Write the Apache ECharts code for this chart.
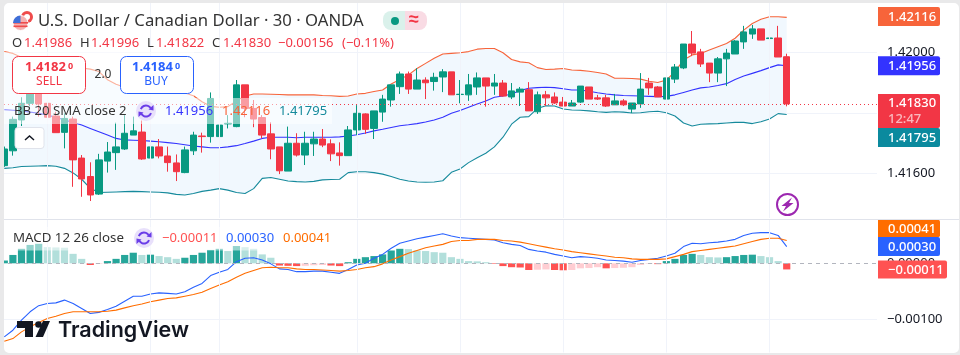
<!DOCTYPE html>
<html>
<head>
<meta charset="utf-8">
<style>
html,body{margin:0;padding:0;background:#e9e9ea}
#main{width:960px;height:355px}
</style>
<script src="https://cdn.jsdelivr.net/npm/echarts@6/dist/echarts.min.js"></script>
</head>
<body>
<div id="main"></div>
<script>
// one candle per row: open, close, low, high
var candles = [
[1.41626,1.41681,1.41622,1.41689],[1.41675,1.41779,1.41659,1.41788],[1.41777,1.41832,1.41757,1.41852],[1.41832,1.41867,1.41823,1.41878],
[1.41865,1.41830,1.41788,1.41885],[1.41832,1.41786,1.41780,1.41860],[1.41790,1.41735,1.41735,1.41804],[1.41736,1.41782,1.41683,1.41799],
[1.41780,1.41645,1.41556,1.41788],[1.41651,1.41582,1.41523,1.41661],[1.41590,1.41529,1.41509,1.41637],[1.41532,1.41645,1.41529,1.41665],
[1.41641,1.41671,1.41603,1.41704],[1.41669,1.41688,1.41612,1.41768],[1.41681,1.41733,1.41678,1.41793],[1.41727,1.41741,1.41727,1.41788],
[1.41737,1.41648,1.41645,1.41775],[1.41651,1.41688,1.41631,1.41694],[1.41688,1.41658,1.41650,1.41714],[1.41658,1.41636,1.41606,1.41689],
[1.41635,1.41606,1.41575,1.41663],[1.41603,1.41678,1.41601,1.41689],[1.41675,1.41727,1.41661,1.41738],[1.41724,1.41722,1.41669,1.41735],
[1.41722,1.41848,1.41702,1.41868],[1.41722,1.41760,1.41722,1.41766],[1.41764,1.41766,1.41749,1.41793],[1.41755,1.41893,1.41753,1.41909],
[1.41893,1.41815,1.41786,1.41893],[1.41815,1.41780,1.41753,1.41843],[1.41785,1.41727,1.41716,1.41793],[1.41731,1.41681,1.41647,1.41769],
[1.41688,1.41609,1.41598,1.41688],[1.41608,1.41700,1.41608,1.41755],[1.41700,1.41661,1.41656,1.41733],[1.41661,1.41700,1.41628,1.41738],
[1.41698,1.41714,1.41658,1.41738],[1.41714,1.41694,1.41687,1.41747],[1.41698,1.41665,1.41641,1.41713],[1.41668,1.41659,1.41626,1.41703],
[1.41659,1.41744,1.41659,1.41757],[1.41744,1.41799,1.41727,1.41826],[1.41797,1.41746,1.41731,1.41799],[1.41749,1.41807,1.41714,1.41807],
[1.41803,1.41846,1.41771,1.41860],[1.41843,1.41893,1.41821,1.41893],[1.41887,1.41929,1.41863,1.41937],[1.41929,1.41879,1.41863,1.41937],
[1.41879,1.41909,1.41879,1.41948],[1.41909,1.41900,1.41846,1.41918],[1.41904,1.41918,1.41874,1.41933],[1.41919,1.41936,1.41869,1.41945],
[1.41936,1.41860,1.41860,1.41936],[1.41861,1.41862,1.41832,1.41909],[1.41860,1.41893,1.41840,1.41929],[1.41886,1.41916,1.41860,1.41934],
[1.41916,1.41889,1.41821,1.41916],[1.41889,1.41899,1.41860,1.41929],[1.41899,1.41856,1.41854,1.41909],[1.41853,1.41873,1.41846,1.41899],
[1.41869,1.41879,1.41823,1.41886],[1.41877,1.41807,1.41807,1.41902],[1.41804,1.41860,1.41797,1.41871],[1.41860,1.41850,1.41823,1.41873],
[1.41853,1.41833,1.41830,1.41868],[1.41836,1.41823,1.41823,1.41853],[1.41823,1.41833,1.41823,1.41843],[1.41836,1.41889,1.41833,1.41889],
[1.41886,1.41846,1.41846,1.41886],[1.41850,1.41846,1.41843,1.41860],[1.41850,1.41823,1.41820,1.41860],[1.41827,1.41840,1.41827,1.41863],
[1.41840,1.41827,1.41823,1.41846],[1.41813,1.41833,1.41800,1.41833],[1.41830,1.41879,1.41817,1.41932],[1.41899,1.41883,1.41860,1.41916],
[1.41886,1.41853,1.41853,1.41889],[1.41846,1.41916,1.41827,1.41929],[1.41912,1.41952,1.41899,1.41962],[1.41949,1.42028,1.41945,1.42028],
[1.42028,1.41998,1.41988,1.42071],[1.42002,1.41962,1.41952,1.42012],[1.41965,1.41932,1.41902,1.41965],[1.41932,1.41979,1.41902,1.41985],
[1.41979,1.41998,1.41889,1.42012],[1.41995,1.42038,1.41995,1.42041],[1.42035,1.42068,1.42012,1.42088],[1.42061,1.42078,1.42045,1.42091],
[1.42078,1.42041,1.42041,1.42078],[1.42046,1.42048,1.42018,1.42061],[1.42048,1.41985,1.41985,1.42088],[1.41986,1.41830,1.41822,1.41996]
];
var bbUpper = [
1.42003,1.41997,1.41984,1.41977,1.41970,1.41964,1.41961,1.41957,1.41953,1.41949,1.41945,1.41937,1.41910,1.41895,1.41885,1.41882,
1.41878,1.41876,1.41874,1.41872,1.41869,1.41866,1.41857,1.41837,1.41822,1.41819,1.41821,1.41840,1.41856,1.41863,1.41863,1.41862,
1.41861,1.41860,1.41860,1.41860,1.41860,1.41858,1.41857,1.41855,1.41856,1.41863,1.41865,1.41871,1.41876,1.41896,1.41911,1.41926,
1.41947,1.41964,1.41981,1.41995,1.41997,1.41999,1.42003,1.42011,1.42013,1.42013,1.41999,1.41977,1.41969,1.41966,1.41950,1.41944,
1.41945,1.41947,1.41942,1.41941,1.41938,1.41934,1.41929,1.41915,1.41915,1.41914,1.41912,1.41905,1.41901,1.41909,1.41937,1.41975,
1.41992,1.41997,1.42008,1.42019,1.42030,1.42047,1.42074,1.42096,1.42110,1.42118,1.42118,1.42116
];
var bbBasis = [
1.41811,1.41809,1.41807,1.41803,1.41799,1.41793,1.41786,1.41777,1.41769,1.41760,1.41749,1.41738,1.41727,1.41716,1.41711,1.41710,
1.41709,1.41707,1.41705,1.41702,1.41699,1.41695,1.41691,1.41688,1.41685,1.41685,1.41688,1.41692,1.41699,1.41707,1.41716,1.41720,
1.41720,1.41720,1.41718,1.41720,1.41720,1.41720,1.41720,1.41721,1.41724,1.41728,1.41734,1.41741,1.41746,1.41752,1.41758,1.41761,
1.41765,1.41770,1.41777,1.41786,1.41799,1.41808,1.41819,1.41830,1.41840,1.41852,1.41856,1.41863,1.41874,1.41882,1.41884,1.41885,
1.41884,1.41880,1.41876,1.41876,1.41872,1.41867,1.41863,1.41860,1.41858,1.41857,1.41856,1.41855,1.41854,1.41855,1.41860,1.41868,
1.41876,1.41883,1.41886,1.41891,1.41897,1.41911,1.41922,1.41931,1.41940,1.41950,1.41959,1.41956
];
var bbLower = [
1.41617,1.41619,1.41623,1.41624,1.41625,1.41626,1.41624,1.41617,1.41602,1.41581,1.41551,1.41537,1.41538,1.41539,1.41540,1.41541,
1.41540,1.41539,1.41538,1.41536,1.41531,1.41529,1.41534,1.41541,1.41545,1.41550,1.41545,1.41537,1.41534,1.41550,1.41584,1.41587,
1.41581,1.41575,1.41573,1.41572,1.41574,1.41579,1.41580,1.41581,1.41603,1.41606,1.41606,1.41603,1.41598,1.41590,1.41581,1.41575,
1.41572,1.41571,1.41572,1.41576,1.41604,1.41615,1.41636,1.41652,1.41667,1.41688,1.41720,1.41763,1.41786,1.41788,1.41815,1.41824,
1.41823,1.41813,1.41810,1.41809,1.41807,1.41804,1.41802,1.41804,1.41803,1.41800,1.41801,1.41804,1.41806,1.41801,1.41790,1.41767,
1.41757,1.41763,1.41764,1.41765,1.41767,1.41769,1.41769,1.41765,1.41771,1.41780,1.41798,1.41795
];
var macdLine = [
-0.00132,-0.00120,-0.00102,-0.00087,-0.00076,-0.00072,-0.00071,-0.00066,-0.00072,-0.00081,-0.00090,-0.00088,-0.00083,-0.00077,-0.00068,-0.00059,
-0.00059,-0.00055,-0.00053,-0.00054,-0.00055,-0.00051,-0.00043,-0.00036,-0.00022,-0.00016,-0.00011,0.00003,0.00009,0.00010,0.00006,-0.00001,
-0.00010,-0.00011,-0.00015,-0.00015,-0.00014,-0.00014,-0.00016,-0.00018,-0.00011,-0.00003,0.00000,0.00009,0.00016,0.00027,0.00036,0.00040,
0.00044,0.00047,0.00050,0.00053,0.00049,0.00046,0.00045,0.00044,0.00043,0.00042,0.00037,0.00034,0.00032,0.00025,0.00022,0.00020,
0.00016,0.00013,0.00010,0.00012,0.00011,0.00009,0.00006,0.00005,0.00004,0.00002,0.00005,0.00007,0.00009,0.00013,0.00018,0.00030,
0.00036,0.00035,0.00037,0.00038,0.00040,0.00043,0.00050,0.00054,0.00055,0.00055,0.00050,0.00030
];
var signalLine = [
-0.00140,-0.00135,-0.00123,-0.00114,-0.00106,-0.00099,-0.00095,-0.00090,-0.00087,-0.00087,-0.00087,-0.00087,-0.00086,-0.00084,-0.00080,-0.00076,
-0.00073,-0.00069,-0.00066,-0.00063,-0.00062,-0.00059,-0.00056,-0.00052,-0.00045,-0.00039,-0.00033,-0.00025,-0.00018,-0.00013,-0.00008,-0.00007,
-0.00008,-0.00008,-0.00010,-0.00011,-0.00011,-0.00012,-0.00013,-0.00014,-0.00013,-0.00011,-0.00008,-0.00006,-0.00001,0.00006,0.00012,0.00018,
0.00023,0.00028,0.00031,0.00034,0.00039,0.00041,0.00041,0.00043,0.00043,0.00043,0.00041,0.00040,0.00038,0.00035,0.00032,0.00029,
0.00026,0.00024,0.00021,0.00019,0.00017,0.00015,0.00013,0.00011,0.00010,0.00008,0.00007,0.00007,0.00007,0.00008,0.00012,0.00016,
0.00021,0.00023,0.00025,0.00027,0.00029,0.00031,0.00035,0.00039,0.00043,0.00045,0.00045,0.00041
];
var macdHist = [
0.00005,0.00015,0.00026,0.00033,0.00035,0.00029,0.000285,0.00028,0.00017,0.00008,-0.00003,-0.00001,0.00004,0.00008,0.00015,0.00019,
0.00015,0.000155,0.00013,0.00011,0.00008,0.00010,0.00015,0.00019,0.00024,0.00026,0.00022,0.00031,0.00029,0.00026,0.00016,0.00010,
-0.00004,-0.000045,-0.00005,-0.000045,-0.000035,-0.00003,-0.00004,-0.00005,0.00002,0.00008,0.00011,0.00013,0.00016,0.00023,0.00026,0.000255,
0.00023,0.00022,0.00020,0.00019,0.00011,0.00008,0.00004,0.000035,0.00002,-0.00001,-0.00005,-0.00007,-0.000075,-0.00012,-0.000115,-0.00011,
-0.00012,-0.000125,-0.00012,-0.00009,-0.000085,-0.00007,-0.00009,-0.000085,-0.00008,-0.00007,-0.00003,-0.00001,-0.000015,0.00004,0.00008,0.00015,
0.00017,0.00015,0.00011,0.000105,0.00011,0.00013,0.00015,0.000155,0.00013,0.00011,0.00004,-0.00011
];
// bars where the time scale has a vertical grid line
var timeGridBars = [5, 17, 25, 41, 53, 65, 77, 89];
var priceTicks = [1.416, 1.418, 1.42];
var priceLabels = [1.416, 1.42];
var macdTicks = [-0.001];
var macdLabels = [-0.001, 0];
var lastPrice = 1.4183;
// 102 slots: 92 bars plus the empty room up to the price scale
var categories = [];
for (var n = 0; n < 102; n++) categories.push(n);

var UP = '#089981', DOWN = '#f23645', GRID = '#f0f3fa';
var FONT = '"Noto Sans", sans-serif';

function gridHelper(ax) {
    return {
        type: 'line', xAxisIndex: ax, yAxisIndex: ax, data: [], z: 0, silent: true,
        markLine: {
            silent: true, symbol: 'none', animation: false, label: {show: false},
            lineStyle: {color: GRID, width: 1, type: 'solid'},
            data: timeGridBars.map(function (b) { return {xAxis: b}; })
        }
    };
}
// a level line across a pane
function levelLine(ax, value, color, dash, z) {
    return {
        type: 'line', xAxisIndex: ax, yAxisIndex: ax, data: [], z: z, silent: true,
        markLine: {
            silent: true, symbol: 'none', animation: false, label: {show: false}, precision: 5,
            lineStyle: {color: color, width: 1, type: dash},
            data: [{yAxis: value}]
        }
    };
}
function lineSeries(ax, data, color, z) {
    return {
        type: 'line', xAxisIndex: ax, yAxisIndex: ax, data: data, showSymbol: false, symbol: 'none',
        smooth: false, z: z, silent: true, lineStyle: {color: color, width: 1.1}
    };
}
function yAxisFor(idx, min, max, ticks, labels) {
    return {
        type: 'value', gridIndex: idx, position: 'right', min: min, max: max, scale: true,
        axisLine: {show: false},
        axisTick: {show: false, customValues: ticks},
        splitLine: {show: true, lineStyle: {color: GRID, width: 1}},
        axisLabel: {
            customValues: labels, margin: 10, color: '#131722', fontFamily: FONT, fontSize: 13,
            formatter: function (v) { return v.toFixed(5).replace('-', '\u2212'); }
        }
    };
}

var chart = echarts.init(document.getElementById('main'), null, {renderer: 'canvas'});
chart.setOption({
    animation: false,
    backgroundColor: '#fff',
    grid: [
        {left: -1.2, width: 878.2, top: 3, height: 215},
        {left: -1.2, width: 878.2, top: 220, height: 132.5}
    ],
    xAxis: [
        {type: 'category', gridIndex: 0, data: categories, axisLine: {show: false}, axisTick: {show: false}, axisLabel: {show: false}, splitLine: {show: false}},
        {type: 'category', gridIndex: 1, data: categories, axisLine: {show: false}, axisTick: {show: false}, axisLabel: {show: false}, splitLine: {show: false}}
    ],
    yAxis: [
        yAxisFor(0, 1.414529, 1.421636, priceTicks, priceLabels),
        yAxisFor(1, -0.0016, 0.000777, macdTicks, macdLabels)
    ],
    series: [
        gridHelper(0),
        gridHelper(1),
        {
            // band fill between upper and lower
            type: 'custom', xAxisIndex: 0, yAxisIndex: 0, data: [0], z: 1, silent: true,
            renderItem: function (params, api) {
                var pts = [], i;
                for (i = 0; i < bbUpper.length; i++) pts.push(api.coord([i, bbUpper[i]]));
                for (i = bbLower.length - 1; i >= 0; i--) pts.push(api.coord([i, bbLower[i]]));
                return {type: 'polygon', shape: {points: pts}, style: {fill: '#f1f8fe'}};
            }
        },
        lineSeries(0, bbBasis, '#3333ff', 2),
        lineSeries(0, bbUpper, '#f7643a', 2),
        lineSeries(0, bbLower, '#168a9c', 2),
        {
            type: 'candlestick', xAxisIndex: 0, yAxisIndex: 0, data: candles, barWidth: 7, z: 3, silent: true,
            itemStyle: {color: UP, color0: DOWN, borderColor: UP, borderColor0: DOWN, borderWidth: 1}
        },
        levelLine(0, lastPrice, DOWN, [1, 3], 4),
        levelLine(1, 0, '#b2b5be', [4, 4], 1),
        {
            type: 'bar', xAxisIndex: 1, yAxisIndex: 1, barWidth: 7.2, z: 2, silent: true,
            data: macdHist.map(function (v, i) {
                var prev = i ? macdHist[i - 1] : 0, c;
                if (v >= 0) c = v >= prev ? '#26a69a' : '#b2dfdb';
                else c = v <= prev ? '#ff5252' : '#ffcdd2';
                return {value: v, itemStyle: {color: c}};
            })
        },
        lineSeries(1, macdLine, '#2962ff', 3),
        lineSeries(1, signalLine, '#ff6d00', 3)
    ]
});

// everything TradingView draws on top of the panes
function txt(x, y, s, fill, size, extra) {
    var st = {text: s, x: x, y: y, fill: fill, fontSize: size, fontFamily: FONT, textVerticalAlign: 'middle', textAlign: 'left'};
    for (var k in extra || {}) st[k] = extra[k];
    return {type: 'text', z: 60, silent: true, style: st};
}
function box(x, y, w, h, fill, r, stroke, z) {
    return {type: 'rect', z: z || 55, silent: true, shape: {x: x, y: y, width: w, height: h, r: r || 0},
        style: {fill: fill, stroke: stroke || null, lineWidth: 1}};
}
function tag(value, axis, text, color, w, h, dy, sub) {
    var cy = chart.convertToPixel({yAxisIndex: axis}, value) + (dy || 0);
    var out = [box(878, cy - h / 2, w, h, color, [0, 2, 2, 0], null, 50)];
    if (sub) {
        out.push(txt(888, cy - 7.5, text, '#fff', 13, {fontWeight: 500}));
        out.push(txt(888, cy + 8, sub, 'rgba(255,255,255,0.65)', 13, {fontWeight: 500}));
    } else {
        out.push(txt(888, cy + 0.5, text, '#fff', 13, {fontWeight: 500}));
    }
    return out;
}
function refreshIcon(cx, cy) {
    return [
        {type: 'circle', z: 56, silent: true, shape: {cx: cx, cy: cy, r: 10}, style: {fill: '#e8e0fb'}},
        {type: 'arc', z: 57, silent: true, shape: {cx: cx, cy: cy, r: 5.5, startAngle: 3.5, endAngle: 5.7}, style: {stroke: '#6a3de8', fill: null, lineWidth: 2}},
        {type: 'arc', z: 57, silent: true, shape: {cx: cx, cy: cy, r: 5.5, startAngle: 0.4, endAngle: 2.6}, style: {stroke: '#6a3de8', fill: null, lineWidth: 2}},
        {type: 'polygon', z: 57, silent: true, shape: {points: [[cx + 7.5, cy - 6], [cx + 7.5, cy - 0.5], [cx + 2.5, cy - 1.5]]}, style: {fill: '#6a3de8'}},
        {type: 'polygon', z: 57, silent: true, shape: {points: [[cx - 7.5, cy + 6], [cx - 7.5, cy + 0.5], [cx - 2.5, cy + 1.5]]}, style: {fill: '#6a3de8'}}
    ];
}

var els = [
    // washes behind the legends
    box(4, 52, 190, 46, 'rgba(255,255,255,0.5)'),
    box(4, 98, 328, 26, 'rgba(255,255,255,0.5)'),
    box(4, 227, 334, 23.5, 'rgba(255,255,255,0.5)'),
    // pane separator
    {type: 'rect', z: 54, silent: true, shape: {x: 4, y: 219, width: 955, height: 1}, style: {fill: '#e0e3eb'}},

    // flag
    {type: 'circle', z: 56, silent: true, shape: {cx: 27, cy: 17, r: 6}, style: {fill: '#ef4b4b'}},
    {type: 'circle', z: 56, silent: true, shape: {cx: 27, cy: 17, r: 3}, style: {fill: '#fff'}},
    {type: 'circle', z: 57, silent: true, shape: {cx: 20.5, cy: 23, r: 7.5}, style: {fill: '#f4b0b0', stroke: '#fff', lineWidth: 1}},
    box(13.5, 22, 14.5, 1.6, '#ef4b4b', 0, null, 58),
    box(13.5, 25.5, 14, 1.6, '#ef4b4b', 0, null, 58),
    {type: 'sector', z: 58, silent: true, shape: {cx: 20.5, cy: 23, r: 7.5, r0: 0, startAngle: Math.PI, endAngle: Math.PI * 1.5}, style: {fill: '#3f6fd8'}},

    txt(38, 21, 'U.S. Dollar / Canadian Dollar \u00b7 30 \u00b7 OANDA', '#333', 16.7),

    // market status pill
    box(383, 11, 22, 19, '#daf1eb', [8, 0, 0, 8]),
    box(405, 11, 22, 19, '#f9dbe4', [0, 8, 8, 0]),
    {type: 'circle', z: 60, silent: true, shape: {cx: 395, cy: 21, r: 4}, style: {fill: UP}},
    txt(409, 20, '\u2248', DOWN, 18, {fontWeight: 700}),

    // OHLC row
    txt(12, 43, 'O', '#333', 13), txt(24, 43, '1.41986', DOWN, 13),
    txt(80, 43, 'H', '#333', 13), txt(91, 43, '1.41996', DOWN, 13),
    txt(147, 43, 'L', '#333', 13), txt(156, 43, '1.41822', DOWN, 13),
    txt(212, 43, 'C', '#333', 13), txt(223, 43, '1.41830', DOWN, 13),
    txt(278, 43, '\u22120.00156', DOWN, 13), txt(342, 43, '(\u22120.11%)', DOWN, 13),

    // sell / buy
    box(12.5, 56.5, 73, 37, '#fff', 6, DOWN),
    txt(25, 67, '1.4182', DOWN, 13, {fontWeight: 700}),
    txt(68, 66, '0', DOWN, 9, {fontWeight: 700}),
    txt(49, 82, 'SELL', DOWN, 12, {textAlign: 'center'}),
    txt(103, 75, '2.0', '#333', 12, {textAlign: 'center'}),
    box(120.5, 56.5, 73, 37, '#fff', 6, '#2962ff'),
    txt(132, 67, '1.4184', '#2962ff', 13, {fontWeight: 700}),
    txt(175, 66, '0', '#2962ff', 9, {fontWeight: 700}),
    txt(156, 82, 'BUY', '#2962ff', 12, {textAlign: 'center'}),

    // BB legend
    txt(14, 111, 'BB 20 SMA close 2', '#333', 13.2),
    txt(165, 111, '1.41956', '#3333ff', 13),
    txt(222, 111, '1.42116', '#f7643a', 13),
    txt(279, 111, '1.41795', '#168a9c', 13),

    // collapse button
    box(15, 127.5, 29, 21, '#fff', 3, '#e0e3eb'),
    {type: 'polyline', z: 60, silent: true, shape: {points: [[25, 140], [29.5, 136], [34, 140]]}, style: {stroke: '#131722', fill: null, lineWidth: 1.5}},

    // lightning badge
    {type: 'circle', z: 60, silent: true, shape: {cx: 787.5, cy: 204.5, r: 10.5}, style: {fill: '#fff', stroke: '#9c27b0', lineWidth: 2}},
    {type: 'polygon', z: 61, silent: true, shape: {points: [[792, 197.5], [781.5, 206], [786, 206], [783, 211.5], [793.5, 203], [789, 203]]}, style: {fill: '#9c27b0'}},

    // MACD legend
    txt(13, 238, 'MACD 12 26 close', '#333', 13.3),
    txt(162, 238, '\u22120.00011', '#ff5252', 13),
    txt(226, 238, '0.00030', '#2962ff', 13),
    txt(283, 238, '0.00041', '#ff6d00', 13),

    // TradingView logo
    {type: 'polygon', z: 60, silent: true, shape: {points: [[17, 321], [33, 321], [33, 337], [25, 337], [25, 328], [17, 328]]}, style: {fill: '#131722'}},
    {type: 'circle', z: 60, silent: true, shape: {cx: 38.5, cy: 324.5, r: 3.3}, style: {fill: '#131722'}},
    {type: 'polygon', z: 60, silent: true, shape: {points: [[43, 321], [50, 321], [43, 337], [35.5, 337]]}, style: {fill: '#131722'}},
    txt(58, 331, 'TradingView', '#131722', 21.5, {fontFamily: 'Inter, sans-serif', fontWeight: 600}),

    // page frame with the rounded card corners
    {type: 'rect', z: 90, silent: true, shape: {x: -1, y: -2, width: 965, height: 360, r: 10}, style: {fill: null, stroke: '#e9e9ea', lineWidth: 10}}
];
els = els.concat(refreshIcon(146, 111), refreshIcon(144, 238));
els = els.concat(tag(1.42116, 0, '1.42116', '#f7643a', 62, 19, -1));
els = els.concat(tag(1.41956, 0, '1.41956', '#3333ff', 62, 19));
els = els.concat(tag(1.4183, 0, '1.41830', DOWN, 62, 34, 7, '12:47'));
els = els.concat(tag(1.41795, 0, '1.41795', '#0b8a9e', 62, 19, 23));
els = els.concat(tag(0.00041, 1, '0.00041', '#ff6d00', 62, 17.5, -12));
els = els.concat(tag(0.00030, 1, '0.00030', '#2962ff', 62, 19, 0));
els = els.concat(tag(-0.00011, 1, '\u22120.00011', '#ff5252', 69, 18, 0));
chart.setOption({graphic: {elements: els}});
</script>
</body>
</html>
